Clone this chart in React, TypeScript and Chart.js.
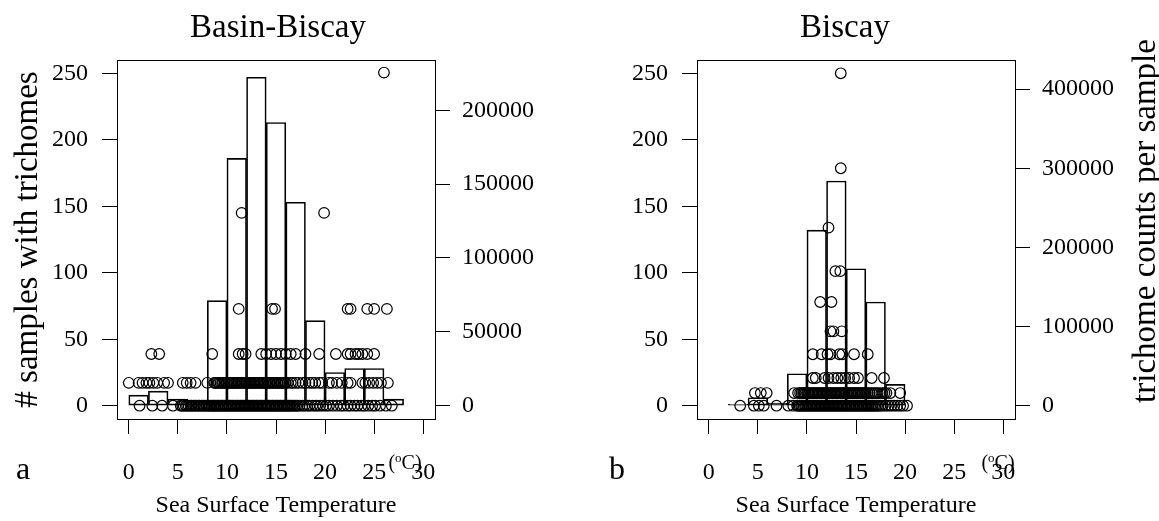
import React, { useEffect, useRef } from "react";
import { Chart, registerables } from "chart.js";

Chart.register(...registerables);

const FONT = '"Liberation Serif", "Times New Roman", serif';

// ---- axis ticks ----
const X_TICKS = [0, 5, 10, 15, 20, 25, 30];
const LEFT_TICKS = [0, 50, 100, 150, 200, 250];
const RIGHT_TICKS_A = [0, 50000, 100000, 150000, 200000];
const RIGHT_TICKS_B = [0, 100000, 200000, 300000, 400000];

// ---- histogram: bin centres (2 degree bins) and counts ----
const BINS_A = [1, 3, 5, 7, 9, 11, 13, 15, 17, 19, 21, 23, 25, 27];
const HIST_A = [8, 11, 5, 3, 79, 186, 247, 213, 153, 64, 25, 28, 28, 5];
const BINS_B = [3, 5, 7, 9, 11, 13, 15, 17, 19];
const HIST_B = [1, 6, 2, 24, 132, 169, 103, 78, 16];

// ---- scatter: trichome counts per sample (value) and SST of each sample ----
const A_VAL_0 = 0;
const A_TEMPS_0 = [1.1, 2.4, 3.4, 4.5, 5.3, 5.45, 5.6, 5.8, 5.95, 6.1, 6.3, 6.4, 6.6, 6.75, 6.9, 7.1, 7.2, 7.4, 7.55, 7.7, 7.9, 8.0, 8.15, 8.3, 8.45, 8.6, 8.7, 8.85, 9.0, 9.1, 9.25, 9.4, 9.5, 9.65, 9.8, 9.9, 10.05, 10.2, 10.3, 10.45, 10.6, 10.7, 10.85, 11.0, 11.1, 11.25, 11.4, 11.5, 11.65, 11.8, 11.9, 12.05, 12.2, 12.3, 12.45, 12.6, 12.7, 12.85, 13.0, 13.1, 13.25, 13.4, 13.5, 13.65, 13.8, 13.9, 14.05, 14.2, 14.3, 14.45, 14.6, 14.7, 14.85, 15.0, 15.1, 15.25, 15.4, 15.5, 15.65, 15.8, 15.9, 16.05, 16.2, 16.3, 16.45, 16.6, 16.75, 16.9, 17.05, 17.2, 17.4, 17.7, 17.9, 18.2, 18.4, 18.7, 19.0, 19.2, 19.5, 19.8, 20.1, 20.4, 20.8, 21.2, 21.6, 21.9, 22.3, 22.6, 23.0, 23.3, 23.7, 24.0, 24.4, 24.8, 25.1, 25.6, 26.2, 26.8];
const A_VAL_1 = 15500;
const A_TEMPS_1 = [0.0, 1.0, 1.4, 1.8, 2.1, 2.5, 2.9, 3.6, 4.0, 5.5, 5.9, 6.3, 6.8, 8.0, 8.7, 8.8, 8.95, 9.1, 9.2, 9.35, 9.5, 9.6, 9.75, 9.9, 10.0, 10.15, 10.3, 10.4, 10.55, 10.7, 10.8, 10.95, 11.1, 11.2, 11.35, 11.5, 11.6, 11.75, 11.9, 12.0, 12.15, 12.3, 12.4, 12.55, 12.7, 12.8, 12.95, 13.1, 13.2, 13.35, 13.5, 13.6, 13.75, 13.9, 14.0, 14.15, 14.3, 14.4, 14.55, 14.7, 14.8, 14.95, 15.1, 15.2, 15.35, 15.5, 15.6, 15.75, 15.9, 16.0, 16.2, 16.5, 16.7, 17.0, 17.3, 17.7, 18.0, 18.4, 18.7, 19.0, 19.4, 19.7, 20.4, 20.7, 21.2, 21.7, 22.3, 22.6, 23.8, 24.1, 24.5, 24.9, 25.3, 25.7, 26.4];
const A_VAL_2 = 35000;
const A_TEMPS_2 = [2.3, 3.1, 8.5, 11.2, 11.6, 11.9, 13.5, 14.0, 14.5, 15.0, 15.5, 16.0, 16.5, 17.0, 18.0, 19.4, 21.1, 22.3, 22.6, 23.1, 23.4, 23.8, 24.3, 25.0];
const A_VAL_3 = 65500;
const A_TEMPS_3 = [11.2, 14.6, 14.9, 22.3, 22.6, 24.3, 25.0, 26.3];
const A_VAL_4 = 130500;
const A_TEMPS_4 = [11.5, 19.9];
const A_VAL_5 = 225500;
const A_TEMPS_5 = [26.0];

const B_VAL_0 = 0;
const B_TEMPS_0 = [3.2, 4.6, 5.1, 5.6, 6.9, 8.1, 8.6, 9.0, 9.1, 9.25, 9.4, 9.5, 9.65, 9.8, 9.9, 10.05, 10.2, 10.3, 10.45, 10.6, 10.7, 10.85, 11.0, 11.1, 11.25, 11.4, 11.5, 11.65, 11.8, 11.9, 12.05, 12.2, 12.3, 12.45, 12.6, 12.7, 12.85, 13.0, 13.1, 13.25, 13.4, 13.5, 13.65, 13.8, 13.9, 14.05, 14.2, 14.3, 14.45, 14.6, 14.7, 14.85, 15.0, 15.1, 15.25, 15.4, 15.5, 15.65, 15.8, 15.9, 16.05, 16.2, 16.3, 16.45, 16.6, 16.7, 16.85, 17.0, 17.15, 17.3, 17.5, 17.7, 18.0, 18.3, 18.6, 18.9, 19.2, 19.5, 19.8, 20.2];
const B_VAL_1 = 16000;
const B_TEMPS_1 = [4.7, 5.3, 5.9, 8.7, 9.1, 9.3, 9.45, 9.6, 9.7, 9.85, 10.0, 10.1, 10.25, 10.4, 10.5, 10.65, 10.8, 10.9, 11.05, 11.2, 11.3, 11.45, 11.6, 11.7, 11.85, 12.0, 12.1, 12.25, 12.4, 12.5, 12.65, 12.8, 12.9, 13.05, 13.2, 13.3, 13.45, 13.6, 13.7, 13.85, 14.0, 14.1, 14.25, 14.4, 14.5, 14.65, 14.8, 14.9, 15.05, 15.2, 15.3, 15.45, 15.6, 15.7, 15.85, 16.0, 16.2, 16.4, 16.6, 16.8, 17.0, 17.2, 17.4, 17.7, 17.9, 18.1, 18.5, 19.5];
const B_VAL_2 = 35000;
const B_TEMPS_2 = [10.6, 10.9, 11.8, 12.2, 12.7, 13.1, 13.5, 13.9, 14.3, 14.8, 15.2, 16.6, 17.85];
const B_VAL_3 = 65000;
const B_TEMPS_3 = [10.6, 11.5, 12.1, 12.4, 13.3, 13.6, 14.8, 16.2];
const B_VAL_4 = 94000;
const B_TEMPS_4 = [12.4, 12.7, 13.55];
const B_VAL_5 = 131000;
const B_TEMPS_5 = [11.35, 12.5];
const B_VAL_6 = 170000;
const B_TEMPS_6 = [12.9, 13.4];
const B_VAL_7 = 225000;
const B_TEMPS_7 = [12.2];
const B_VAL_8 = 300000;
const B_TEMPS_8 = [13.45];
const B_VAL_9 = 420000;
const B_TEMPS_9 = [13.45];

const toPoints = (temps: number[], value: number) => temps.map((t) => ({ x: t, y: value }));

const POINTS_A = [
  ...toPoints(A_TEMPS_0, A_VAL_0),
  ...toPoints(A_TEMPS_1, A_VAL_1),
  ...toPoints(A_TEMPS_2, A_VAL_2),
  ...toPoints(A_TEMPS_3, A_VAL_3),
  ...toPoints(A_TEMPS_4, A_VAL_4),
  ...toPoints(A_TEMPS_5, A_VAL_5),
];
const POINTS_B = [
  ...toPoints(B_TEMPS_0, B_VAL_0),
  ...toPoints(B_TEMPS_1, B_VAL_1),
  ...toPoints(B_TEMPS_2, B_VAL_2),
  ...toPoints(B_TEMPS_3, B_VAL_3),
  ...toPoints(B_TEMPS_4, B_VAL_4),
  ...toPoints(B_TEMPS_5, B_VAL_5),
  ...toPoints(B_TEMPS_6, B_VAL_6),
  ...toPoints(B_TEMPS_7, B_VAL_7),
  ...toPoints(B_TEMPS_8, B_VAL_8),
  ...toPoints(B_TEMPS_9, B_VAL_9),
];

type Panel = {
  key: string;
  width: number;
  title: string;
  titleX: number;
  letter: string;
  letterX: number;
  degX: number;
  bins: number[];
  hist: number[];
  points: { x: number; y: number }[];
  rightMin: number;
  rightMax: number;
  rightTicks: number[];
  leftTitle?: string;
  rightTitle?: string;
};

const PANELS: Panel[] = [
  {
    key: "a",
    width: 580,
    title: "Basin-Biscay",
    titleX: 278,
    letter: "a",
    letterX: 23,
    degX: 405,
    bins: BINS_A,
    hist: HIST_A,
    points: POINTS_A,
    rightMin: -9000,
    rightMax: 234000,
    rightTicks: RIGHT_TICKS_A,
    leftTitle: "# samples with trichomes",
  },
  {
    key: "b",
    width: 579,
    title: "Biscay",
    titleX: 265,
    letter: "b",
    letterX: 37,
    degX: 418,
    bins: BINS_B,
    hist: HIST_B,
    points: POINTS_B,
    rightMin: -16800,
    rightMax: 436800,
    rightTicks: RIGHT_TICKS_B,
    rightTitle: "trichome counts per sample",
  },
];

const H = 521;
const PLOT_LEFT = 117;
const PLOT_RIGHT = 435;
const PLOT_TOP = 60;
const PLOT_BOTTOM = 419;

function decorPlugin(p: Panel) {
  return {
    id: "decor_" + p.key,
    afterDraw(chart: any) {
      const { ctx, chartArea: a } = chart;
      ctx.save();
      ctx.strokeStyle = "#000";
      ctx.lineWidth = 1;
      ctx.strokeRect(
        Math.round(a.left) + 0.5,
        Math.round(a.top) + 0.5,
        Math.round(a.right - a.left),
        Math.round(a.bottom - a.top)
      );
      ctx.fillStyle = "#000";
      ctx.textBaseline = "alphabetic";
      ctx.textAlign = "center";
      ctx.font = `33px ${FONT}`;
      ctx.fillText(p.title, p.titleX, 37);

      ctx.font = `24px ${FONT}`;
      ctx.fillText("Sea Surface Temperature", (a.left + a.right) / 2, 512);

      ctx.font = `32px ${FONT}`;
      ctx.fillText(p.letter, p.letterX, 479);

      // (°C) unit label
      ctx.textAlign = "left";
      const big = `20px ${FONT}`;
      const small = `13px ${FONT}`;
      ctx.font = big;
      const w1 = ctx.measureText("(").width;
      const w3 = ctx.measureText("C)").width;
      ctx.font = small;
      const w2 = ctx.measureText("o").width;
      let x = p.degX - (w1 + w2 + w3) / 2;
      const base = 469;
      ctx.font = big;
      ctx.fillText("(", x, base);
      x += w1;
      ctx.font = small;
      ctx.fillText("o", x, base - 7);
      x += w2;
      ctx.font = big;
      ctx.fillText("C)", x, base);

      ctx.textAlign = "center";
      ctx.font = `33px ${FONT}`;
      const cy = (a.top + a.bottom) / 2;
      if (p.leftTitle) {
        ctx.save();
        ctx.translate(37, cy);
        ctx.rotate(-Math.PI / 2);
        ctx.fillText(p.leftTitle, 0, 0);
        ctx.restore();
      }
      if (p.rightTitle) {
        ctx.save();
        ctx.translate(p.width - 4, 221);
        ctx.rotate(-Math.PI / 2);
        ctx.fillText(p.rightTitle, 0, 0);
        ctx.restore();
      }
      ctx.restore();
    },
  };
}

function makeConfig(p: Panel): any {
  const tickFont = { family: FONT, size: 24 };
  const grid = {
    display: true,
    drawOnChartArea: false,
    drawTicks: true,
    tickLength: 15,
    color: "#000",
    lineWidth: 1,
    offset: false,
  };
  return {
    type: "bar",
    data: {
      datasets: [
        {
          type: "bar",
          data: p.bins.map((c, i) => ({ x: c, y: p.hist[i] })),
          xAxisID: "x",
          yAxisID: "y",
          backgroundColor: "rgba(0,0,0,0)",
          borderColor: "#000",
          borderWidth: 1,
          borderSkipped: false,
          barPercentage: 1,
          categoryPercentage: 1,
          grouped: false,
          order: 2,
        },
        {
          type: "scatter",
          data: p.points,
          xAxisID: "x",
          yAxisID: "y2",
          pointStyle: "circle",
          pointRadius: 5.3,
          pointHoverRadius: 5.3,
          borderColor: "#000",
          borderWidth: 1.2,
          backgroundColor: "rgba(0,0,0,0)",
          showLine: false,
          order: 1,
        },
      ],
    },
    options: {
      animation: false,
      responsive: false,
      maintainAspectRatio: false,
      events: [],
      layout: { padding: { top: PLOT_TOP, left: 0, right: 0, bottom: 0 }, autoPadding: false },
      plugins: { legend: { display: false }, tooltip: { enabled: false }, title: { display: false } },
      scales: {
        x: {
          type: "linear",
          position: "bottom",
          min: -1.2,
          max: 31.2,
          offset: false,
          afterBuildTicks: (s: any) => {
            s.ticks = X_TICKS.map((v) => ({ value: v }));
          },
          afterFit: (s: any) => {
            s.height = H - PLOT_BOTTOM;
          },
          grid,
          border: { display: false },
          ticks: {
            font: tickFont,
            color: "#000",
            padding: 24,
            maxRotation: 0,
            minRotation: 0,
            autoSkip: false,
            callback: (v: any) => String(v),
          },
        },
        y: {
          type: "linear",
          position: "left",
          min: -10,
          max: 260,
          afterBuildTicks: (s: any) => {
            s.ticks = LEFT_TICKS.map((v) => ({ value: v }));
          },
          afterFit: (s: any) => {
            s.width = PLOT_LEFT;
          },
          grid,
          border: { display: false },
          ticks: {
            font: tickFont,
            color: "#000",
            padding: 14,
            autoSkip: false,
            callback: (v: any) => String(v),
          },
        },
        y2: {
          type: "linear",
          position: "right",
          min: p.rightMin,
          max: p.rightMax,
          afterBuildTicks: (s: any) => {
            s.ticks = p.rightTicks.map((v) => ({ value: v }));
          },
          afterFit: (s: any) => {
            s.width = p.width - PLOT_RIGHT;
          },
          grid,
          border: { display: false },
          ticks: {
            font: tickFont,
            color: "#000",
            padding: 12,
            autoSkip: false,
            callback: (v: any) => String(v),
          },
        },
      },
    },
    plugins: [decorPlugin(p)],
  };
}

function PanelChart({ panel, left }: { panel: Panel; left: number }) {
  const ref = useRef<HTMLCanvasElement | null>(null);
  useEffect(() => {
    if (!ref.current) return;
    const chart = new Chart(ref.current, makeConfig(panel));
    return () => chart.destroy();
  }, [panel]);
  return (
    <canvas
      ref={ref}
      width={panel.width}
      height={H}
      style={{ position: "absolute", left, top: 0, width: panel.width, height: H, display: "block" }}
    />
  );
}

export default function App() {
  return (
    <div
      style={{
        position: "fixed",
        left: 0,
        top: 0,
        width: 1159,
        height: H,
        background: "#fff",
        overflow: "hidden",
      }}
    >
      <PanelChart panel={PANELS[0]} left={0} />
      <PanelChart panel={PANELS[1]} left={580} />
    </div>
  );
}
